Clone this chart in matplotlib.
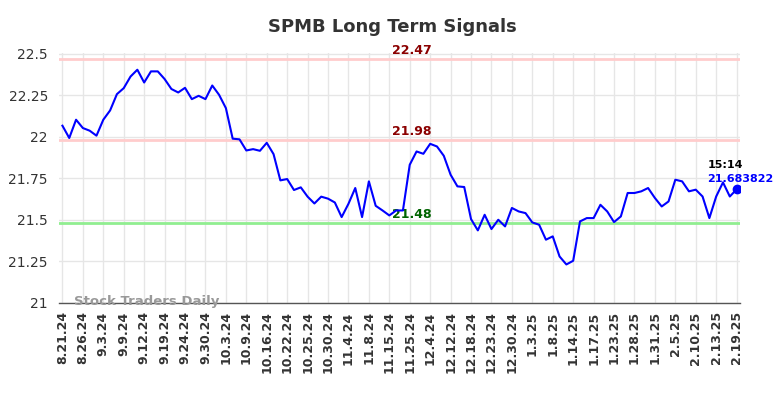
import numpy as np
import matplotlib
matplotlib.use("Agg")
import matplotlib.pyplot as plt

# tick dates (one every third point)
tick_labels = ["8.21.24", "8.26.24", "9.3.24", "9.9.24", "9.12.24", "9.19.24", "9.24.24",
               "9.30.24", "10.3.24", "10.9.24", "10.16.24", "10.22.24", "10.25.24", "10.30.24",
               "11.4.24", "11.8.24", "11.15.24", "11.25.24", "12.4.24", "12.12.24", "12.18.24",
               "12.23.24", "12.30.24", "1.3.25", "1.8.25", "1.14.25", "1.17.25", "1.23.25",
               "1.28.25", "1.31.25", "2.5.25", "2.10.25", "2.13.25", "2.19.25"]

prices = [22.067, 21.993, 22.103, 22.053, 22.037, 22.007, 22.103, 22.159, 22.257, 22.293,
          22.363, 22.404, 22.327, 22.394, 22.394, 22.348, 22.288, 22.267, 22.295, 22.227,
          22.247, 22.227, 22.309, 22.253, 22.173, 21.989, 21.985, 21.918, 21.926, 21.916,
          21.964, 21.896, 21.738, 21.746, 21.680, 21.696, 21.640, 21.599, 21.640, 21.628,
          21.605, 21.517, 21.597, 21.692, 21.517, 21.732, 21.585, 21.557, 21.527, 21.557,
          21.557, 21.832, 21.912, 21.898, 21.958, 21.942, 21.886, 21.772, 21.702, 21.698,
          21.505, 21.437, 21.531, 21.445, 21.501, 21.461, 21.572, 21.551, 21.541, 21.485,
          21.471, 21.381, 21.401, 21.280, 21.232, 21.254, 21.491, 21.511, 21.511, 21.591,
          21.551, 21.487, 21.521, 21.662, 21.662, 21.672, 21.692, 21.632, 21.581, 21.611,
          21.742, 21.732, 21.672, 21.682, 21.641, 21.511, 21.641, 21.726, 21.641, 21.683822]

resistance = [22.47, 21.98]
support = 21.48
last_time = "15:14"

x = np.arange(len(prices))

fig = plt.figure(figsize=(7.84, 3.98), dpi=100)
ax = fig.add_axes([0.0753, 0.2387, 0.8686, 0.6283])

ax.grid(True, color="#e6e6e6", linewidth=1)
ax.set_axisbelow(True)

for r in resistance:
    ax.axhline(r, color="#ffcccc", linewidth=2, zorder=1)
    ax.text(51.3, r + 0.012, f"{r:.2f}", color="#8b0000", fontsize=9,
            fontweight="bold", ha="center", va="bottom")
ax.axhline(support, color="#90ee90", linewidth=2, zorder=1)
ax.text(51.3, support + 0.012, f"{support:.2f}", color="#006400", fontsize=9,
        fontweight="bold", ha="center", va="bottom")

ax.plot(x, prices, color="blue", linewidth=1.5, zorder=3)
ax.plot(x[-1], prices[-1], "o", color="blue", markersize=6, zorder=4)
ax.text(x[-1] - 4.3, prices[-1] + 0.148, last_time, color="black", fontsize=8,
        fontweight="bold", ha="left", va="center")
ax.text(x[-1] - 4.3, prices[-1] + 0.063, f"{prices[-1]:.6f}", color="blue", fontsize=8,
        fontweight="bold", ha="left", va="center")

ax.text(0.022, 0.005, "Stock Traders Daily", transform=ax.transAxes, color="#999999",
        fontsize=9.5, fontweight="bold", ha="left", va="center")

ax.set_xlim(-0.5, 99.5)
ax.set_ylim(21, 22.505)
ax.set_yticks([21, 21.25, 21.5, 21.75, 22, 22.25, 22.5])
ax.set_yticklabels(["21", "21.25", "21.5", "21.75", "22", "22.25", "22.5"])
ax.set_xticks(x[::3])
ax.set_xticklabels(tick_labels, rotation=90, fontsize=9, fontweight="bold", color="#333333")
ax.tick_params(axis="y", labelsize=10, colors="#333333", length=0, pad=8)
ax.tick_params(axis="x", length=0, pad=6)

for s in ["left", "right", "top"]:
    ax.spines[s].set_visible(False)
ax.spines["bottom"].set_color("#555555")
ax.spines["bottom"].set_linewidth(1)

fig.suptitle("SPMB Long Term Signals", fontsize=13, fontweight="bold", color="#333333",
             x=0.5, y=0.932, va="center")

plt.savefig("out.png", dpi=100)
plt.close()
